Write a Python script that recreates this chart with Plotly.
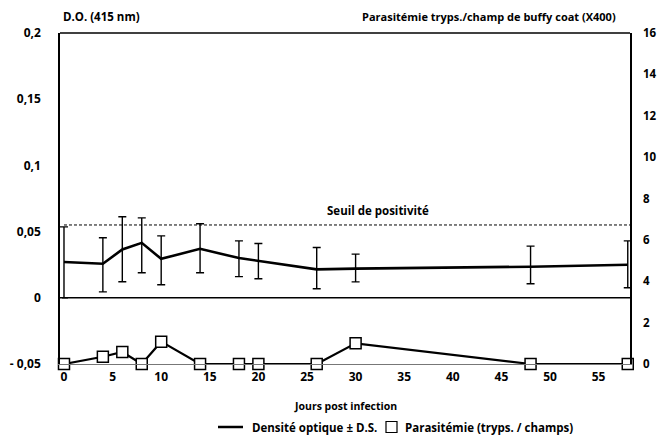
import plotly.graph_objects as go

days = [0, 4, 6, 8, 10, 14, 18, 20, 26, 30, 48, 58]
do_mean = [0.027, 0.0257, 0.0365, 0.0415, 0.0294, 0.037, 0.030, 0.028, 0.0215, 0.022, 0.0235, 0.025]
do_sd_plus = [0.0266, 0.0196, 0.0247, 0.0189, 0.0174, 0.0189, 0.013, 0.013, 0.0165, 0.011, 0.0155, 0.018]
do_sd_minus = [0.027, 0.0212, 0.0244, 0.0226, 0.0196, 0.0181, 0.014, 0.0136, 0.0147, 0.010, 0.0129, 0.0174]
para = [0, 0.35, 0.58, 0, 1.08, 0, 0, 0, 0, 1.0, 0, 0]
threshold = 0.055

left_ticks = [-0.05, 0, 0.05, 0.1, 0.15, 0.2]
left_text = ["- 0,05", "0", "0,05", "0,1", "0,15", "0,2"]
right_ticks = [0, 2, 4, 6, 8, 10, 12, 14, 16]
x_ticks = [0, 5, 10, 15, 20, 25, 30, 35, 40, 45, 50, 55]

FONT = "Open Sans"
BOLD = dict(family=FONT, size=11.5, color="black", weight="bold")
TICKF = dict(family=FONT, size=12, color="black", weight="bold")

fig = go.Figure()
fig.add_trace(go.Scatter(
    x=days, y=do_mean, mode="lines", line=dict(color="black", width=2.6),
    error_y=dict(type="data", symmetric=False, array=do_sd_plus, arrayminus=do_sd_minus,
                 color="black", thickness=1.4, width=4),
    showlegend=False, yaxis="y"))
fig.add_trace(go.Scatter(
    x=days, y=para, mode="lines+markers", line=dict(color="black", width=2.2),
    marker=dict(symbol="square", size=11, color="white", line=dict(color="black", width=1.5)),
    showlegend=False, yaxis="y2", cliponaxis=False))

xmin, xmax = -0.41, 58.23
fig.update_layout(
    width=658, height=435,
    margin=dict(l=60, r=28, t=33, b=71, autoexpand=False),
    paper_bgcolor="white", plot_bgcolor="white",
    font=BOLD,
    xaxis=dict(range=[xmin, xmax], tickvals=x_ticks, showgrid=False, zeroline=False,
               showline=True, linecolor="#777", linewidth=1, ticks="", ticklabelstandoff=2,
               tickfont=TICKF, automargin=False),
    yaxis=dict(range=[-0.05, 0.2], tickvals=left_ticks, ticktext=left_text, showgrid=False,
               zeroline=False, showline=True, linecolor="black", linewidth=1.5, ticks="",
               ticklabelstandoff=15, tickfont=TICKF, automargin=False),
    yaxis2=dict(range=[0, 16], tickvals=right_ticks, overlaying="y", side="right", showgrid=False,
                zeroline=False, showline=True, linecolor="black", linewidth=1.5, ticks="",
                ticklabelstandoff=9,
                tickfont=dict(family=FONT, size=11.5, color="black", weight="bold"),
                automargin=False),
)


def px(xp):
    return (xp - 60) / 570


def py(yp):
    return (364 - yp) / 331


# top border, zero line, threshold
fig.add_shape(type="line", xref="paper", yref="paper", x0=0, x1=1, y0=1, y1=1,
              line=dict(color="black", width=1.5))
fig.add_shape(type="line", xref="x", yref="y", x0=-0.2, x1=xmax, y0=0, y1=0,
              line=dict(color="black", width=1.5))
fig.add_shape(type="line", xref="x", yref="y", x0=0, x1=xmax, y0=threshold, y1=threshold,
              line=dict(color="black", width=1, dash="3px,2px"))

fig.add_annotation(x=32.3, y=0.0658, xref="x", yref="y", text="Seuil de positivité",
                   showarrow=False, font=BOLD)
fig.add_annotation(x=px(61), y=py(16), xref="paper", yref="paper", xanchor="left",
                   yanchor="middle", text="D.O. (415 nm)", showarrow=False, font=BOLD)
fig.add_annotation(x=px(618), y=py(16), xref="paper", yref="paper", xanchor="right",
                   yanchor="middle", text="Parasitémie tryps./champ de buffy coat (X400)",
                   showarrow=False, font=dict(family=FONT, size=11, color="black", weight="bold"))
fig.add_annotation(x=px(345), y=py(406), xref="paper", yref="paper", xanchor="center",
                   yanchor="middle", text="Jours post infection", showarrow=False,
                   font=dict(family=FONT, size=10.5, color="black", weight="bold"))

# legend (drawn manually)
LEG_Y = 427
fig.add_annotation(x=px(250), y=py(LEG_Y), xref="paper", yref="paper", xanchor="left",
                   yanchor="middle", text="Densité optique ± D.S.", showarrow=False, font=BOLD)
fig.add_annotation(x=px(403), y=py(LEG_Y), xref="paper", yref="paper", xanchor="left",
                   yanchor="middle", text="Parasitémie (tryps. / champs)", showarrow=False,
                   font=BOLD)
fig.add_shape(type="line", xref="paper", yref="paper", x0=px(218), x1=px(243), y0=py(LEG_Y),
              y1=py(LEG_Y), line=dict(color="black", width=2.5))
fig.add_shape(type="rect", xref="paper", yref="paper", x0=px(386), x1=px(397),
              y0=py(LEG_Y + 5.5), y1=py(LEG_Y - 5.5), line=dict(color="black", width=1.2),
              fillcolor="white")

fig.write_html("out.html", config={"displayModeBar": False},
               post_script="document.body.style.margin='0';")
